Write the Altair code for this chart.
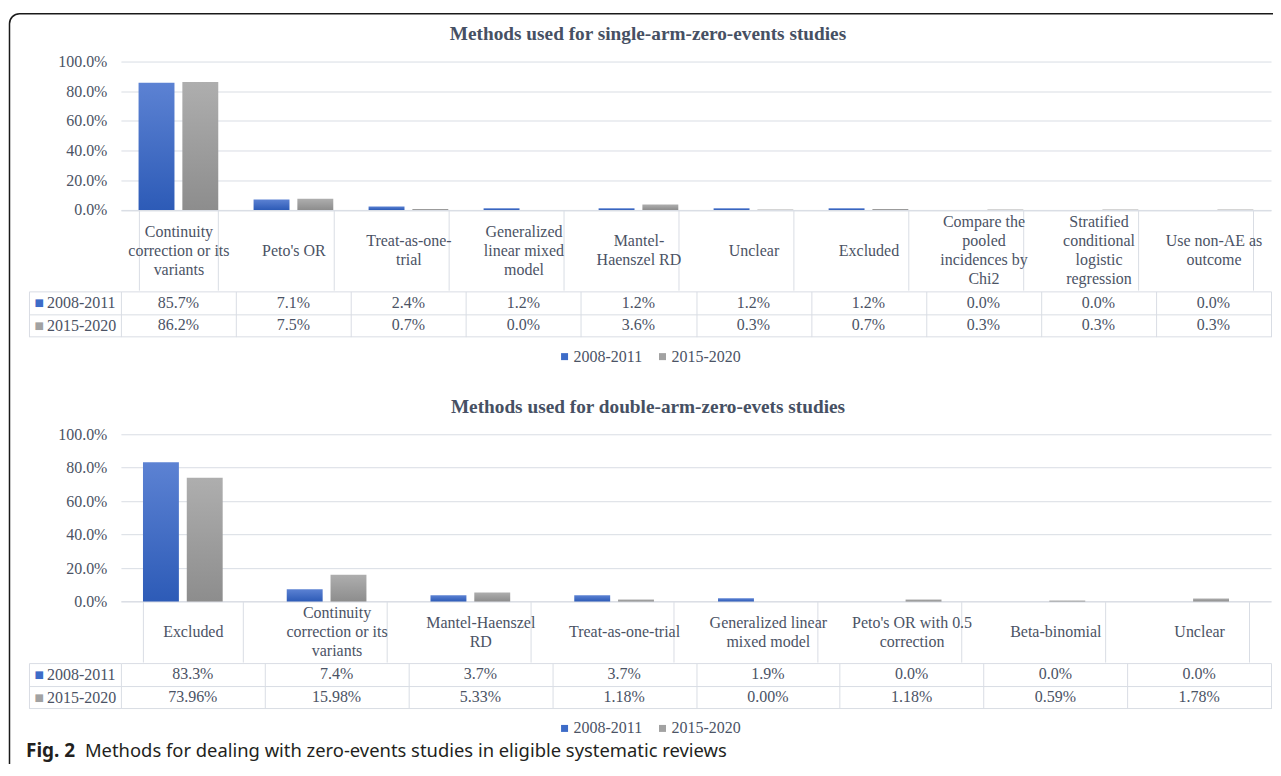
import altair as alt
import pandas as pd

# ---------------- data ----------------
SERIES = ["2008-2011", "2015-2020"]

title1 = "Methods used for single-arm-zero-events studies"
cats1 = [
    "Continuity|correction or its|variants",
    "Peto's OR",
    "Treat-as-one-|trial",
    "Generalized|linear mixed|model",
    "Mantel-|Haenszel RD",
    "Unclear",
    "Excluded",
    "Compare the|pooled|incidences by|Chi2",
    "Stratified|conditional|logistic|regression",
    "Use non-AE as|outcome",
]
s1_2008 = [85.7, 7.1, 2.4, 1.2, 1.2, 1.2, 1.2, 0.0, 0.0, 0.0]
s1_2015 = [86.2, 7.5, 0.7, 0.0, 3.6, 0.3, 0.7, 0.3, 0.3, 0.3]
dec1 = [1, 1]

title2 = "Methods used for double-arm-zero-evets studies"
cats2 = [
    "Excluded",
    "Continuity|correction or its|variants",
    "Mantel-Haenszel|RD",
    "Treat-as-one-trial",
    "Generalized linear|mixed model",
    "Peto's OR with 0.5|correction",
    "Beta-binomial",
    "Unclear",
]
s2_2008 = [83.3, 7.4, 3.7, 3.7, 1.9, 0.0, 0.0, 0.0]
s2_2015 = [73.96, 15.98, 5.33, 1.18, 0.00, 1.18, 0.59, 1.78]
dec2 = [1, 2]

caption_bold = "Fig. 2"
caption_text = "Methods for dealing with zero-events studies in eligible systematic reviews"

# ---------------- style ----------------
FONT = "Liberation Serif"
TXT = "#4b5365"
TITLE_C = "#465063"
GRID = "#d9dde4"
BLUE = "#3d6cc8"
GRAY = "#a2a2a2"
W = 1151
LINE_H = 19

blue_grad = alt.Gradient(gradient="linear",
                         stops=[alt.GradientStop(color="#5c82d3", offset=0),
                                alt.GradientStop(color="#2d5bb7", offset=1)],
                         x1=0, x2=0, y1=0, y2=1)
gray_grad = alt.Gradient(gradient="linear",
                         stops=[alt.GradientStop(color="#aeaeae", offset=0),
                                alt.GradientStop(color="#8d8d8d", offset=1)],
                         x1=0, x2=0, y1=0, y2=1)


def long_df(cats, a, b, decs):
    rows = []
    for i, c in enumerate(cats):
        for s, vals, d in zip(SERIES, (a, b), decs):
            rows.append({"cat": c, "series": s, "value": vals[i] / 100.0,
                         "label": f"{vals[i]:.{d}f}%"})
    return pd.DataFrame(rows)


def header_padding(header_h, maxn):
    # centre each header (1..maxn lines) vertically inside the header cell
    conds = [{"test": f"length(split(datum.value, '|')) == {n}",
              "value": header_h / 2 - (n - 1) * LINE_H / 2 - header_h}
             for n in range(2, maxn + 1)]
    return {"condition": conds, "value": header_h / 2 - header_h}


def bar_chart(df, cats, title, H, header_h, maxn):
    xsc = alt.Scale(domain=cats, paddingInner=0.307, paddingOuter=0.1535)
    xax = alt.Axis(title=None, labelExpr="split(datum.label, '|')", labelAngle=0,
                   labelFont=FONT, labelFontSize=16, labelColor=TXT, labelLineHeight=LINE_H,
                   labelBaseline="middle", labelPadding=header_padding(header_h, maxn),
                   labelLimit=400, labelOverlap=False, tickBand="extent", tickSize=header_h,
                   tickColor=GRID, domainColor=GRID, grid=False)
    yax = alt.Axis(title=None, values=[0, 0.2, 0.4, 0.6, 0.8, 1.0], format=".1%",
                   labelFont=FONT, labelFontSize=16, labelColor=TXT, labelPadding=14,
                   domain=False, ticks=False, gridColor=GRID)
    base = alt.Chart(df).encode(
        x=alt.X("cat:N", scale=xsc, axis=xax, sort=cats),
        xOffset=alt.XOffset("series:N", scale=alt.Scale(domain=SERIES, paddingInner=0.18, paddingOuter=0)),
        y=alt.Y("value:Q", scale=alt.Scale(domain=[0, 1], nice=False), axis=yax),
    )
    b1 = base.transform_filter(alt.datum.series == SERIES[0]).mark_bar(color=blue_grad)
    b2 = base.transform_filter(alt.datum.series == SERIES[1]).mark_bar(color=gray_grad)
    return alt.layer(b1, b2).properties(
        width=W, height=H,
        title=alt.TitleParams(title, font=FONT, fontSize=19.3, fontWeight="bold",
                              color=TITLE_C, anchor="middle", dx=-48, offset=9),
    )


def table_chart(df, cats, h, extra=()):
    xsc = alt.Scale(domain=cats, paddingInner=0, paddingOuter=0)
    xax = alt.Axis(title=None, labels=False, ticks=False, domain=False, grid=True,
                   gridColor=GRID, tickBand="extent")
    ysc = alt.Scale(domain=SERIES, paddingInner=0, paddingOuter=0)
    yax = alt.Axis(title=None, orient="left", labelAlign="left", labelPadding=-17.5,
                   labelFont=FONT, labelFontSize=16, labelColor=TXT, tickBand="extent",
                   tickSize=92, tickColor=GRID, grid=True, gridColor=GRID, domain=False)
    text = alt.Chart(df).mark_text(font=FONT, fontSize=16, color=TXT).encode(
        x=alt.X("cat:N", scale=xsc, axis=xax, sort=cats),
        y=alt.Y("series:N", scale=ysc, axis=yax, sort=SERIES),
        text="label:N",
    )
    sq_axis = alt.Axis(title=None, orient="left", offset=92, labelExpr="'■'",
                       labelAlign="left", labelPadding=-5, labelFont="DejaVu Sans",
                       labelFontSize=10,
                       labelColor={"condition": {"test": f"datum.value === '{SERIES[0]}'",
                                                 "value": BLUE}, "value": GRAY},
                       ticks=False, grid=False, domainColor=GRID)
    sq = alt.Chart(pd.DataFrame({"series": SERIES})).mark_square(size=0, filled=True, opacity=1).encode(
        y=alt.Y("series:N", scale=alt.Scale(domain=SERIES, paddingInner=0, paddingOuter=0),
                axis=sq_axis, sort=SERIES),
        color=alt.Color("series:N", scale=alt.Scale(domain=SERIES, range=[BLUE, GRAY]),
                        legend=alt.Legend(orient="none", legendX=436, legendY=h + 12,
                                          direction="horizontal", title=None,
                                          symbolType="square", symbolSize=49,
                                          symbolStrokeWidth=0, symbolOpacity=1,
                                          labelFont=FONT, labelFontSize=16, labelColor=TXT,
                                          labelOffset=1, columnPadding=12, padding=0)),
    )
    return (alt.layer(text, sq, *extra)
            .resolve_scale(y="independent")
            .resolve_axis(y="independent")
            .properties(width=W, height=h))


def spacer(h):
    return alt.Chart(pd.DataFrame({"k": [0]})).mark_text(text="").properties(width=W, height=h)


df1 = long_df(cats1, s1_2008, s1_2015, dec1)
df2 = long_df(cats2, s2_2008, s2_2015, dec2)

H1, HEAD1, T1, GAP, H2, HEAD2, T2 = 148.5, 80.3, 45.3, 97.0, 167.4, 60.6, 45.4
tab2_top = H1 + HEAD1 + T1 + GAP + H2 + HEAD2

one = pd.DataFrame({"k": [0]})
# journal figure frame: it runs past the right and bottom edges of the page
frame = alt.Chart(one).mark_rect(filled=False, stroke="#1a1a1a", strokeWidth=1.5,
                                 cornerRadius=10).encode(
    x=alt.value(-111.5), x2=alt.value(W + 16),
    y=alt.value(-50.8 - tab2_top), y2=alt.value(T2 + 80))
cap1 = alt.Chart(pd.DataFrame({"t": [caption_bold]})).mark_text(
    font="Noto Sans", fontSize=19, fontWeight="bold", align="left", baseline="alphabetic",
    color="#231f20").encode(x=alt.value(-95), y=alt.value(T2 + 48.5), text="t:N")
cap2 = alt.Chart(pd.DataFrame({"t": [caption_text]})).mark_text(
    font="Noto Sans", fontSize=18.4, align="left", baseline="alphabetic",
    color="#231f20").encode(x=alt.value(-36), y=alt.value(T2 + 48.5), text="t:N")

bar1 = bar_chart(df1, cats1, title1, H1, HEAD1, 4)
tab1 = table_chart(df1, cats1, T1)
bar2 = bar_chart(df2, cats2, title2, H2, HEAD2, 3)
tab2 = table_chart(df2, cats2, T2, extra=(frame, cap1, cap2))

chart = (alt.vconcat(bar1, spacer(HEAD1), tab1, spacer(GAP), bar2, spacer(HEAD2), tab2,
                     spacing=0, bounds="flush")
         .resolve_scale(color="independent").resolve_legend(color="independent")
         .configure_view(stroke=None)
         .properties(padding={"left": 0, "top": 4.3, "right": -15, "bottom": -26},
                     background="white"))

chart.save("out.html", embed_options={"renderer": "svg", "actions": False})
